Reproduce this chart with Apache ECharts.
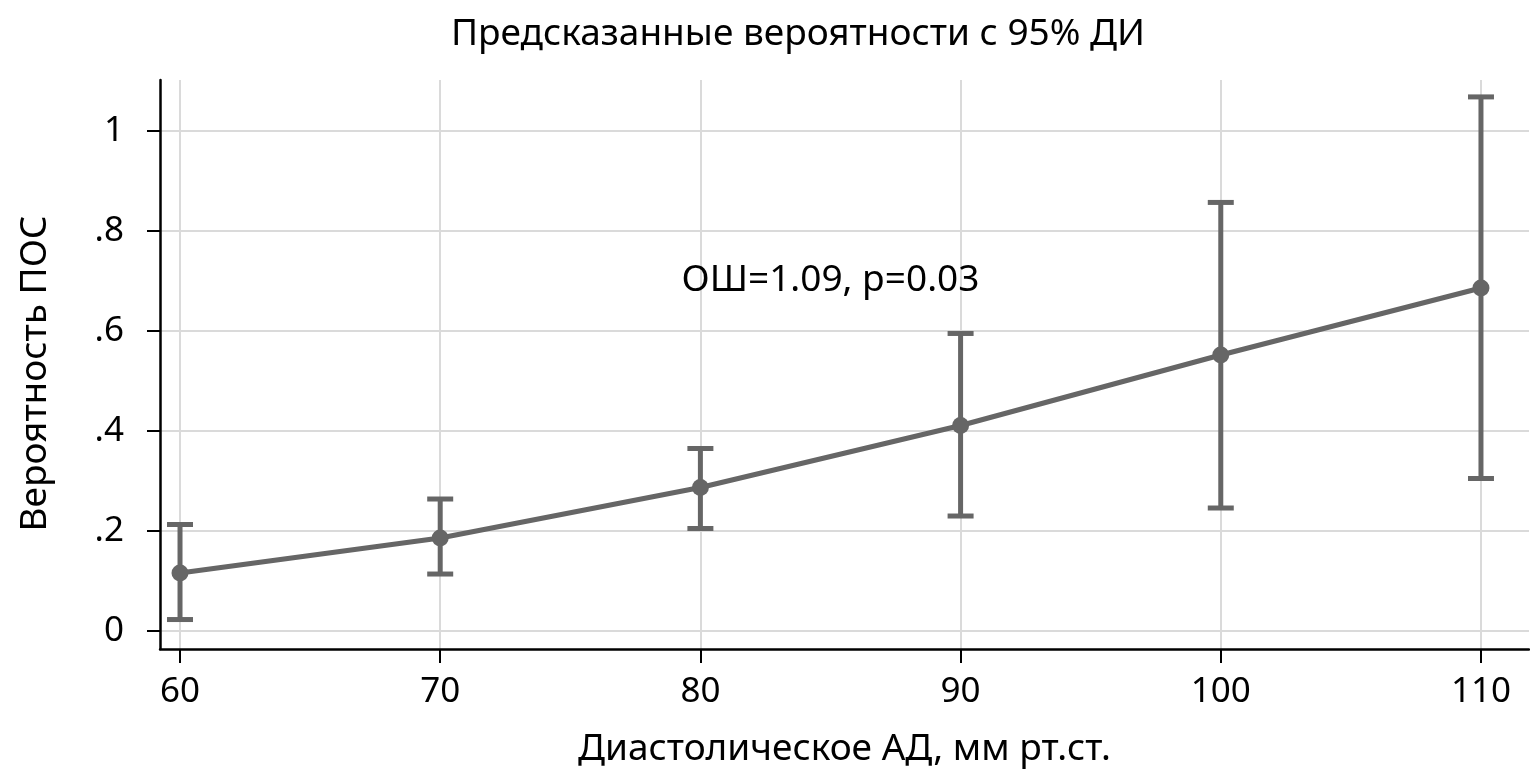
<!DOCTYPE html>
<html>
<head>
<meta charset="utf-8">
<script src="https://cdn.jsdelivr.net/npm/echarts@6/dist/echarts.min.js"></script>
<style>
  html, body { margin: 0; padding: 0; background: #fff; }
  #chart { width: 1530px; height: 778px; }
</style>
</head>
<body>
<div id="chart"></div>
<script>
// диастолическое АД и предсказанные вероятности ПОС
var dbp = [60, 70, 80, 90, 100, 110];
var prob = [0.116, 0.186, 0.287, 0.411, 0.552, 0.686];
var ciLow = [0.023, 0.114, 0.205, 0.230, 0.246, 0.305];
var ciHigh = [0.213, 0.264, 0.365, 0.595, 0.857, 1.068];
var xTicks = [60, 70, 80, 90, 100, 110];
var yTicks = [0, 0.2, 0.4, 0.6, 0.8, 1];
var note = [85, 0.70];
var noteText = 'ОШ=1.09, p=0.03';

var FONT = '"Noto Sans", "Open Sans", sans-serif';
var MARK = '#666666';

var chart = echarts.init(document.getElementById('chart'));

// усы доверительного интервала
function renderBar(params, api) {
    var x = api.value(0);
    var top = api.coord([x, api.value(2)]);
    var bot = api.coord([x, api.value(1)]);
    var cap = 13;
    var style = { stroke: MARK, lineWidth: 5 };
    return {
        type: 'group',
        children: [
            { type: 'line', shape: { x1: top[0], y1: top[1], x2: bot[0], y2: bot[1] }, style: style },
            { type: 'line', shape: { x1: top[0] - cap, y1: top[1], x2: top[0] + cap, y2: top[1] }, style: style },
            { type: 'line', shape: { x1: bot[0] - cap, y1: bot[1], x2: bot[0] + cap, y2: bot[1] }, style: style }
        ]
    };
}

chart.setOption({
    animation: false,
    title: {
        text: 'Предсказанные вероятности с 95% ДИ',
        left: 793,
        top: 11,
        textAlign: 'center',
        textStyle: { fontFamily: FONT, fontSize: 37, fontWeight: 'normal', color: '#000' }
    },
    grid: { left: 160, right: 1, top: 80, bottom: 129, containLabel: false },
    xAxis: {
        type: 'value',
        min: 59.2308,
        max: 111.846,
        name: 'Диастолическое АД, мм рт.ст.',
        nameLocation: 'middle',
        nameGap: 82,
        nameTextStyle: { fontFamily: FONT, fontSize: 37, color: '#000' },
        axisLine: { show: true, onZero: false, lineStyle: { color: '#000', width: 2.5 } },
        axisTick: { show: true, customValues: xTicks, length: 14, lineStyle: { color: '#000', width: 2 } },
        axisLabel: { customValues: xTicks, margin: 26, fontFamily: FONT, fontSize: 35, color: '#000' },
        splitLine: { show: true, lineStyle: { color: '#dadada', width: 2 } }
    },
    yAxis: {
        type: 'value',
        min: -0.0359,
        max: 1.1018,
        name: 'Вероятность ПОС',
        nameLocation: 'middle',
        nameGap: 106,
        nameTextStyle: { fontFamily: FONT, fontSize: 37, color: '#000', padding: [0, 18, 0, 0] },
        axisLine: { show: true, onZero: false, lineStyle: { color: '#000', width: 2.5 } },
        axisTick: { show: true, customValues: yTicks, length: 13, lineStyle: { color: '#000', width: 2 } },
        axisLabel: {
            customValues: yTicks, margin: 36, fontFamily: FONT, fontSize: 35, color: '#000',
            formatter: function (v) {
                if (v === 0) return '0';
                if (v === 1) return '1';
                return String(+v.toFixed(1)).replace(/^0\./, '.');
            }
        },
        splitLine: { show: true, lineStyle: { color: '#dadada', width: 2 } }
    },
    series: [
        {
            type: 'custom',
            renderItem: renderBar,
            data: dbp.map(function (x, i) { return [x, ciLow[i], ciHigh[i]]; }),
            z: 2
        },
        {
            type: 'line',
            data: dbp.map(function (x, i) { return [x, prob[i]]; }),
            symbol: 'circle',
            symbolSize: 17,
            lineStyle: { color: MARK, width: 5 },
            itemStyle: { color: MARK },
            z: 3
        },
        {
            type: 'scatter',
            data: [note],
            symbolSize: 0,
            itemStyle: { opacity: 1 },
            label: {
                show: true, position: 'inside', formatter: noteText,
                fontFamily: FONT, fontSize: 37, color: '#000', opacity: 1
            },
            z: 4
        }
    ]
});
</script>
</body>
</html>
